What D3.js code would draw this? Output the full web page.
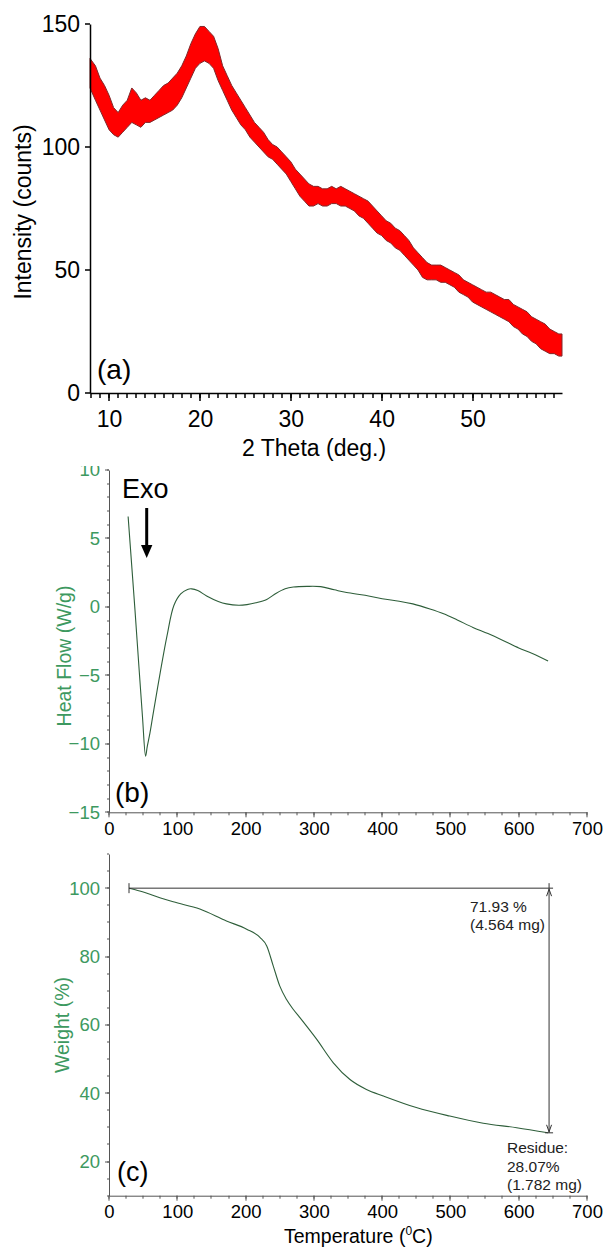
<!DOCTYPE html>
<html>
<head>
<meta charset="utf-8">
<script src="https://cdn.jsdelivr.net/npm/d3@7"></script>
<style>
  body { margin: 0; background: #fff; }
  svg { display: block; font-family: "Liberation Sans", Arial, sans-serif; }
</style>
</head>
<body>
<svg id="figure" width="605" height="1247"></svg>
<script>
// (a) XRD: noisy band, lower / upper envelope
const xrdTheta = [7.9, 8.5, 9, 9.5, 10, 10.5, 11, 11.5, 12, 12.5, 13, 13.5, 14, 14.5, 15, 15.5, 16, 16.5, 17, 17.5, 18, 18.5, 19, 19.5, 20, 20.5, 21, 21.5, 22, 22.5, 23, 23.5, 24, 24.5, 25, 25.5, 26, 26.5, 27, 27.5, 28, 28.5, 29, 29.5, 30, 30.5, 31, 31.5, 32, 32.5, 33, 33.5, 34, 34.5, 35, 35.5, 36, 36.5, 37, 37.5, 38, 38.5, 39, 39.5, 40, 40.5, 41, 41.5, 42, 42.5, 43, 43.5, 44, 44.5, 45, 45.5, 46, 46.5, 47, 47.5, 48, 48.5, 49, 49.5, 50, 50.5, 51, 51.5, 52, 52.5, 53, 53.5, 54, 54.5, 55, 55.5, 56, 56.5, 57, 57.5, 58, 58.5, 59, 59.5, 59.85];
const xrdLow   = [124, 119, 115, 111, 107, 105, 104, 106, 108, 110, 109, 108, 110, 110, 111, 112, 113, 114, 115, 117, 120, 124, 128, 132, 134, 135, 134, 132, 127, 123, 119, 115, 112, 109, 107, 104, 102, 100, 98, 96, 95, 93, 91, 89, 86, 83, 80, 78, 76, 76, 77, 76, 76, 77, 77, 76, 76, 75, 74, 72, 71, 69, 67, 65, 64, 62, 61, 59, 58, 56, 54, 52, 50, 47, 46, 46, 46, 45, 45, 44, 43, 41, 40, 39, 37, 36, 35, 34, 33, 32, 31, 30, 29, 27, 26, 24, 23, 21, 20, 18, 17, 16, 16, 15, 15];
const xrdHigh  = [136, 133, 128, 125, 121, 116, 114, 117, 119, 124, 122, 119, 120, 119, 121, 123, 125, 126, 128, 130, 133, 137, 142, 146, 149, 149, 147, 145, 140, 133, 129, 125, 122, 119, 116, 113, 110, 108, 106, 103, 101, 100, 98, 96, 94, 91, 89, 87, 85, 84, 84, 83, 83, 84, 83, 84, 83, 82, 81, 80, 79, 78, 76, 74, 72, 70, 69, 67, 66, 64, 62, 59, 57, 55, 53, 52, 52, 52, 51, 50, 49, 48, 46, 45, 44, 43, 42, 41, 41, 40, 39, 38, 38, 36, 35, 34, 33, 31, 30, 29, 28, 26, 25, 24, 24];
const xrdXTicks = [10, 20, 30, 40, 50];
const xrdYTicks = [0, 50, 100, 150];

// (b) DSC heat flow
const dscTemp = [28, 33, 38, 44, 49, 53.6, 56, 60, 65, 75, 85, 95, 105, 115, 121, 130, 143, 160, 172, 190, 202, 215, 231, 245, 258, 270, 290, 310, 330, 348, 375, 400, 425, 445, 470, 490, 510, 533, 555, 577, 600, 620, 643];
const dscFlow = [6.6, 3.2, -0.2, -4.5, -8.0, -10.9, -10.2, -9.2, -7.7, -4.8, -2.1, 0.1, 0.95, 1.28, 1.32, 1.2, 0.8, 0.4, 0.22, 0.12, 0.17, 0.3, 0.55, 1.0, 1.32, 1.45, 1.5, 1.48, 1.25, 1.05, 0.85, 0.6, 0.42, 0.22, -0.15, -0.5, -0.95, -1.5, -1.95, -2.45, -3.0, -3.4, -3.95];
const flowTicks = [-15, -10, -5, 0, 5, 10];

// (c) TGA weight
const tgaTemp   = [29.3, 45, 60, 94, 133, 172, 201.6, 221, 231, 240.6, 250, 260, 270, 279.6, 304, 328.5, 352.9, 377, 401.6, 450, 499, 548, 597, 643];
const tgaWeight = [100, 99.2, 98.2, 96.0, 93.9, 90.4, 88.0, 85.6, 83.1, 77.2, 71.4, 67.4, 64.5, 62.1, 55.8, 48.9, 44.0, 41.1, 39.2, 35.8, 33.3, 31.2, 29.9, 28.4];
const weightTicks = [20, 40, 60, 80, 100];

const tempTicks = [0, 100, 200, 300, 400, 500, 600, 700];
const lossLabel = ['71.93 %', '(4.564 mg)'];
const residueLabel = ['Residue:', '28.07%', '(1.782 mg)'];

const GREEN = '#3d9960';
const CURVE = '#2e5e3a';

let svg = d3.select('#figure');
let chart = {};

/**
 * axis line + labels from d3's axis, tick marks as small filled rects placed by the scale
 */
chart.axis = function(g, axisFn, scale, major, minor, majorSize, minorSize, pad, color, width){
    let left = axisFn === d3.axisLeft;
    g.call(axisFn(scale).tickValues(major).tickSize(majorSize).tickSizeOuter(0).tickPadding(pad).tickFormat(d3.format('d')));
    g.selectAll('.tick line').remove();
    g.selectAll('.tick').attr('opacity', null);
    g.select('.domain').attr('stroke', color).attr('stroke-width', width);

    let marks = minor.map(v => ({v: v, size: minorSize})).concat(major.map(v => ({v: v, size: majorSize})));
    g.append('g').selectAll('rect').data(marks).enter().append('rect')
        .attr('x', d => left ? -d.size : Math.round(scale(d.v)) - width / 2)
        .attr('y', d => left ? Math.round(scale(d.v)) - width / 2 : 0)
        .attr('width', d => left ? d.size : width)
        .attr('height', d => left ? width : d.size)
        .attr('fill', color);
};

chart.xrd = function(){
    let x = d3.scaleLinear().domain([7.9, 59.85]).range([90, 562]);
    let y = d3.scaleLinear().domain([0, 150]).range([393, 24]);
    let g = svg.append('g');

    let band = d3.area()
        .x((d, i) => x(xrdTheta[i]))
        .y0((d, i) => y(xrdLow[i]))
        .y1((d, i) => y(xrdHigh[i]))
        .curve(d3.curveLinear);
    g.append('path')
        .datum(xrdTheta)
        .attr('d', band)
        .attr('fill', '#ff0000')
        .attr('stroke', '#80282a')
        .attr('stroke-width', 1);

    let xAxis = g.append('g').attr('transform', 'translate(0,393)');
    chart.axis(xAxis, d3.axisBottom, x, xrdXTicks, d3.range(8, 60, 1), 8, 5, 10, '#000', 1.5);
    let yAxis = g.append('g').attr('transform', 'translate(90,0)');
    chart.axis(yAxis, d3.axisLeft, y, xrdYTicks, [], 5, 5, 5, '#000', 1.5);
    g.selectAll('.tick text').attr('font-size', 23).attr('fill', '#000').attr('font-family', null);

    g.append('text').attr('x', 242).attr('y', 456).attr('font-size', 23).text('2 Theta (deg.)');
    g.append('text').attr('transform', 'translate(31,212) rotate(-90)')
        .attr('text-anchor', 'middle').attr('font-size', 23).text('Intensity (counts)');
    g.append('text').attr('x', 97).attr('y', 379).attr('font-size', 28).text('(a)');
};

chart.dsc = function(){
    let x = d3.scaleLinear().domain([0, 700]).range([109, 587]);
    let y = d3.scaleLinear().domain([-15, 10]).range([812.3, 470]);
    svg.append('clipPath').attr('id', 'clipB')
        .append('rect').attr('x', 0).attr('y', 466).attr('width', 605).attr('height', 400);
    let g = svg.append('g').attr('clip-path', 'url(#clipB)');

    g.append('path')
        .datum(dscTemp)
        .attr('d', d3.line().x((d, i) => x(dscTemp[i])).y((d, i) => y(dscFlow[i])).curve(d3.curveCatmullRom.alpha(0.5)))
        .attr('fill', 'none')
        .attr('stroke', CURVE)
        .attr('stroke-width', 1.1);

    let xAxis = g.append('g').attr('transform', 'translate(0,812.3)');
    chart.axis(xAxis, d3.axisBottom, x, tempTicks, d3.range(0, 701, 25), 5, 3, 5, '#555', 1);
    xAxis.selectAll('.tick text').attr('fill', '#000');
    let yAxis = g.append('g').attr('transform', 'translate(109,0)');
    chart.axis(yAxis, d3.axisLeft, y, flowTicks, d3.range(-15, 11, 1), 4, 2, 5, '#555', 1);
    yAxis.selectAll('.tick text').attr('fill', GREEN);
    g.selectAll('.tick text').attr('font-size', 18.5).attr('font-family', null);

    g.append('text').attr('transform', 'translate(70.5,656) rotate(-90)')
        .attr('text-anchor', 'middle').attr('font-size', 19.5).attr('fill', GREEN).text('Heat Flow (W/g)');
    g.append('text').attr('x', 115).attr('y', 802).attr('font-size', 28).text('(b)');
    g.append('text').attr('x', 122).attr('y', 498).attr('font-size', 27).text('Exo');

    // Exo arrow
    g.append('line').attr('x1', 146.7).attr('x2', 146.7).attr('y1', 508).attr('y2', 546)
        .attr('stroke', '#000').attr('stroke-width', 3);
    g.append('path').attr('d', d3.line()([[141, 545], [152.4, 545], [146.7, 558]])).attr('fill', '#000');
};

chart.tga = function(){
    let x = d3.scaleLinear().domain([0, 700]).range([109, 587]);
    let y = d3.scaleLinear().domain([10, 110]).range([1195.7, 854]);
    let g = svg.append('g');

    g.append('path')
        .datum(tgaTemp)
        .attr('d', d3.line().x((d, i) => x(tgaTemp[i])).y((d, i) => y(tgaWeight[i])).curve(d3.curveMonotoneX))
        .attr('fill', 'none')
        .attr('stroke', CURVE)
        .attr('stroke-width', 1.1);

    let xAxis = g.append('g').attr('transform', 'translate(0,1195.7)');
    chart.axis(xAxis, d3.axisBottom, x, tempTicks, d3.range(0, 701, 25), 5, 3, 4, '#555', 1);
    xAxis.selectAll('.tick text').attr('fill', '#000');
    let yAxis = g.append('g').attr('transform', 'translate(109,0)');
    chart.axis(yAxis, d3.axisLeft, y, weightTicks, d3.range(10, 111, 5), 4, 2, 5, '#555', 1);
    yAxis.selectAll('.tick text').attr('fill', GREEN);
    g.selectAll('.tick text').attr('font-size', 18.5).attr('font-family', null);

    // weight loss marker: horizontal line at start weight, double arrow down to residue
    let t0 = tgaTemp[0], t1 = tgaTemp[tgaTemp.length - 1];
    let w0 = tgaWeight[0], w1 = tgaWeight[tgaWeight.length - 1];
    let xe = x(t1) + 1;
    let mark = g.append('g').attr('stroke', '#333').attr('stroke-width', 1).attr('fill', 'none');
    mark.append('line').attr('x1', x(t0)).attr('x2', xe + 4).attr('y1', y(w0)).attr('y2', y(w0));
    mark.append('line').attr('x1', x(t0)).attr('x2', x(t0)).attr('y1', y(w0) - 5).attr('y2', y(w0) + 5);
    mark.append('line').attr('x1', xe).attr('x2', xe).attr('y1', y(w0) - 5).attr('y2', y(w1));
    mark.append('line').attr('x1', xe - 4).attr('x2', xe + 4).attr('y1', y(w1)).attr('y2', y(w1));
    mark.append('path').attr('d', d3.line()([[xe - 2.5, y(w0) + 8], [xe, y(w0) + 1], [xe + 2.5, y(w0) + 8]]));
    mark.append('path').attr('d', d3.line()([[xe - 2.5, y(w1) - 8], [xe, y(w1) - 1], [xe + 2.5, y(w1) - 8]]));

    g.append('g').selectAll('text').data(lossLabel).enter().append('text')
        .attr('x', 470).attr('y', (d, i) => 911.5 + i * 18.5)
        .attr('font-size', 15.5).attr('fill', '#222').text(d => d);
    g.append('g').selectAll('text').data(residueLabel).enter().append('text')
        .attr('x', 507).attr('y', (d, i) => 1153 + i * 18.5)
        .attr('font-size', 15.5).attr('fill', '#222').text(d => d);

    g.append('text').attr('transform', 'translate(69,1025) rotate(-90)')
        .attr('text-anchor', 'middle').attr('font-size', 19.5).attr('fill', GREEN).text('Weight (%)');
    g.append('text').attr('x', 117).attr('y', 1181).attr('font-size', 27).text('(c)');

    let xl = g.append('text').attr('x', 284).attr('y', 1243).attr('font-size', 19.5);
    xl.append('tspan').text('Temperature (');
    xl.append('tspan').attr('dy', -8).attr('font-size', 12).text('0');
    xl.append('tspan').attr('dy', 8).text('C)');
};

chart.xrd();
chart.dsc();
chart.tga();
</script>
</body>
</html>
